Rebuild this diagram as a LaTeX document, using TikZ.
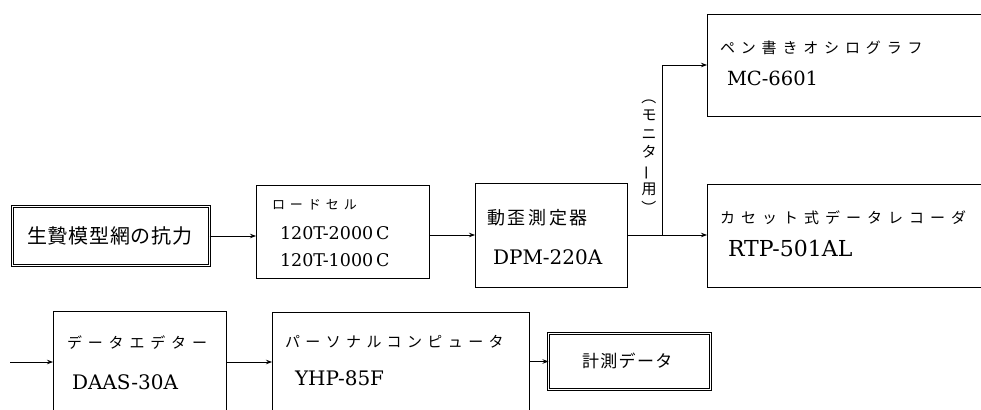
\documentclass[tikz,border=0pt]{standalone}
\usepackage{fontspec}
\usepackage{graphicx}
\usetikzlibrary{arrows.meta}
\newfontfamily\jp{Noto Sans CJK JP}
\newfontfamily\lat{DejaVu Serif}
\newcommand{\jpf}[2]{\jp\addfontfeature{LetterSpace=#2}\fontsize{#1}{#1}\selectfont}
\newcommand{\latf}[1]{\lat\fontsize{#1}{#1}\selectfont}
\begin{document}
\begin{tikzpicture}[x=1pt,y=-1pt,
  box/.style={draw,line width=0.8pt,inner sep=0pt,outer sep=0pt},
  dbox/.style={draw,line width=0.7pt,double,double distance=1.8pt,inner sep=0pt,outer sep=0pt},
  txt/.style={anchor=base west,inner sep=0pt,outer sep=0pt},
  conn/.style={line width=0.8pt,-{Stealth[length=6pt,width=4.5pt]}},
  seg/.style={line width=0.8pt}]
\clip (0,0) rectangle (981,409);
\fill[white] (0,0) rectangle (981,409);
% boxes
\node[dbox,minimum width=197pt,minimum height=59pt] (b1) at (111,236) {};
\node[box,minimum width=173pt,minimum height=93pt] (b2) at (342.5,231.5) {};
\node[box,minimum width=152pt,minimum height=104pt] (b3) at (551,235) {};
\node[box,minimum width=320pt,minimum height=102pt] (b4) at (867,65) {};
\node[box,minimum width=320pt,minimum height=103pt] (b5) at (867,235.5) {};
\node[box,minimum width=173pt,minimum height=130pt] (b6) at (139.5,376) {};
\node[box,minimum width=257pt,minimum height=130pt] (b7) at (400.5,377) {};
\node[dbox,minimum width=162pt,minimum height=56pt] (b8) at (629.5,361.5) {};
% texts
\node[txt] (t1) at (27,243.6) {\jpf{20}{4}生贄模型網の抗力};
\node[txt] (t2a) at (272,209.8) {\jpf{13}{38}ロードセル};
\node[txt] (t2b) at (280,239.5) {\latf{17.5}120T-2000\,C};
\node[txt] (t2c) at (280,266.5) {\latf{17.5}120T-1000\,C};
\node[txt] (t3a) at (487,224.7) {\jpf{18}{15}動歪測定器};
\node[txt] (t3b) at (493,264.4) {\latf{20}DPM-220A};
\node[txt] (t4a) at (720,53.5) {\jpf{15}{39}ペン書きオシログラフ};
\node[txt] (t4b) at (727,85.2) {\latf{19.5}MC-6601};
\node[txt] (t5a) at (720,223.5) {\jpf{15}{40}カセット式データレコーダ};
\node[txt] (t5b) at (728,256.1) {\latf{22}RTP-501AL};
\node[txt] (t6a) at (67,348.5) {\jpf{15}{39}データエデター};
\node[txt] (t6b) at (72,389.4) {\latf{20}DAAS-30A};
\node[txt] (t7a) at (285,347.5) {\jpf{15}{36}パーソナルコンピュータ};
\node[txt] (t7b) at (295,385.4) {\latf{20}YHP-85F};
\node[txt] (t8) at (582,367.3) {\jpf{17}{8}計測データ};
\node[inner sep=0pt,align=center,font={\jpf{15}{0}\baselineskip=18.5pt}] (mon) at (649,152)
  {\rotatebox[origin=c]{-90}{（}\\モ\\ニ\\タ\\\rotatebox[origin=c]{90}{ー}\\用\\\rotatebox[origin=c]{-90}{）}};
% connectors
\coordinate (br) at (662,235);
\coordinate (in) at (10,362);
\draw[conn] (b1.east) -- (b2.west |- b1.east);
\draw[conn] (b2.east |- b3.west) -- (b3.west);
\draw[conn] (b3.east) -- (b5.west |- b3.east);
\draw[conn] (br) |- (b4.west);
\draw[conn] (in) -- (in -| b6.west);
\draw[conn] (b6.east |- in) -- (b7.west |- in);
\draw[conn] (b7.east |- b8.west) -- (b8.west);
\end{tikzpicture}
\end{document}
